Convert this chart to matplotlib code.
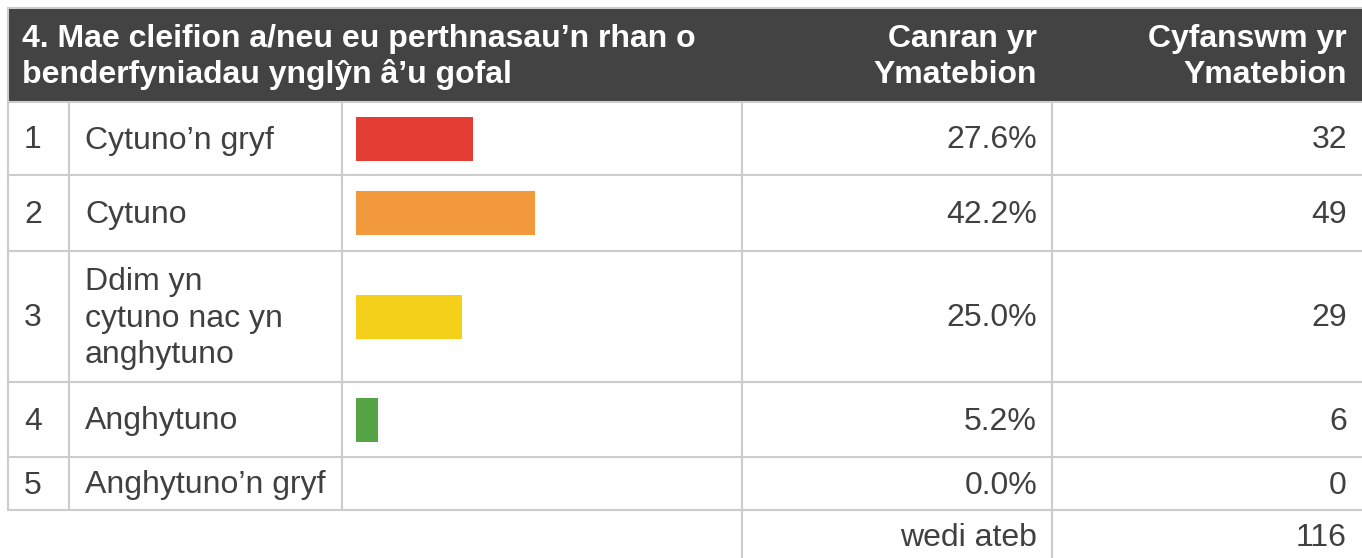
import matplotlib.pyplot as plt
from matplotlib.patches import Rectangle

plt.rcParams["font.family"] = ["Liberation Sans", "DejaVu Sans"]

# data
question = "4. Mae cleifion a/neu eu perthnasau\u2019n rhan o\nbenderfyniadau yngl\u0177n \u00e2\u2019u gofal"
col_pct_title = "Canran yr\nYmatebion"
col_cnt_title = "Cyfanswm yr\nYmatebion"
numbers = ["1", "2", "3", "4", "5"]
answers = ["Cytuno\u2019n gryf", "Cytuno", "Ddim yn\ncytuno nac yn\nanghytuno",
           "Anghytuno", "Anghytuno\u2019n gryf"]
percents = [27.6, 42.2, 25.0, 5.2, 0.0]
counts = [32, 49, 29, 6, 0]
bar_colors = ["#e43d33", "#f2993c", "#f4d01b", "#55a546", "#cccccc"]
answered_label = "wedi ateb"
answered_total = 116

W, H = 1362, 558
fig = plt.figure(figsize=(W / 100, H / 100), dpi=100)
ax = fig.add_axes([0, 0, 1, 1])
ax.set_xlim(0, W)
ax.set_ylim(H, 0)
ax.axis("off")

line_c = "#cccccc"
text_c = "#404040"
fs = 23

# layout (pixels)
x_left, x_num, x_lab, x_bar, x_pct, x_right = 8, 69, 342, 742, 1052, W + 5
y_top, y_head = 8, 102
row_edges = [102, 175, 251, 382, 457, 510]
y_foot = 570

# header
ax.add_patch(Rectangle((x_left, y_top), x_right - x_left, y_head - y_top,
                       facecolor="#434343", edgecolor=line_c, lw=1.5, zorder=2))
yh = (y_top + y_head) / 2 + 2
ax.text(22, yh, question, color="white", fontsize=fs,
        fontweight="bold", va="center", ha="left", linespacing=1.22, zorder=3)
ax.text(x_pct - 15, yh, col_pct_title, color="white", fontsize=fs,
        fontweight="bold", va="center", ha="right", linespacing=1.22, zorder=3,
        multialignment="right")
ax.text(x_right - 20, yh, col_cnt_title, color="white", fontsize=fs,
        fontweight="bold", va="center", ha="right", linespacing=1.22, zorder=3,
        multialignment="right")

# grid lines
lw = 1.5
for y in row_edges[1:]:
    ax.plot([x_left, x_right], [y, y], color=line_c, lw=lw, zorder=1)
ax.plot([x_left, x_left], [y_head, row_edges[-1]], color=line_c, lw=lw, zorder=1)
for x in [x_num, x_lab]:
    ax.plot([x, x], [y_head, row_edges[-1]], color=line_c, lw=lw, zorder=1)
for x in [x_bar, x_pct]:
    ax.plot([x, x], [y_head, y_foot], color=line_c, lw=lw, zorder=1)

# bar column: own axes with a 0-100 % scale
bar_x0, px_per_100 = 356, 425
bax = fig.add_axes([bar_x0 / W, 0, px_per_100 / W, 1])
bax.set_xlim(0, 100)
bax.set_ylim(H, 0)
bax.axis("off")
bax.patch.set_alpha(0)

centers = [(row_edges[i] + row_edges[i + 1]) / 2 for i in range(len(answers))]
bax.barh(centers, percents, height=44, left=0, color=bar_colors, align="center")

for i, yc in enumerate(centers):
    ax.text(24, yc + 2, numbers[i], color=text_c, fontsize=fs, va="center", ha="left")
    ax.text(85, yc + 2, answers[i], color=text_c, fontsize=fs, va="center", ha="left",
            linespacing=1.28)
    ax.text(x_pct - 15, yc + 2, f"{percents[i]:.1f}%", color=text_c, fontsize=fs,
            va="center", ha="right")
    ax.text(x_right - 20, yc + 2, str(counts[i]), color=text_c, fontsize=fs,
            va="center", ha="right")

yf = 538
ax.text(x_pct - 15, yf, answered_label, color=text_c, fontsize=fs, va="center", ha="right")
ax.text(x_right - 20, yf, str(answered_total), color=text_c, fontsize=fs, va="center", ha="right")

fig.savefig("out.png", dpi=100)
